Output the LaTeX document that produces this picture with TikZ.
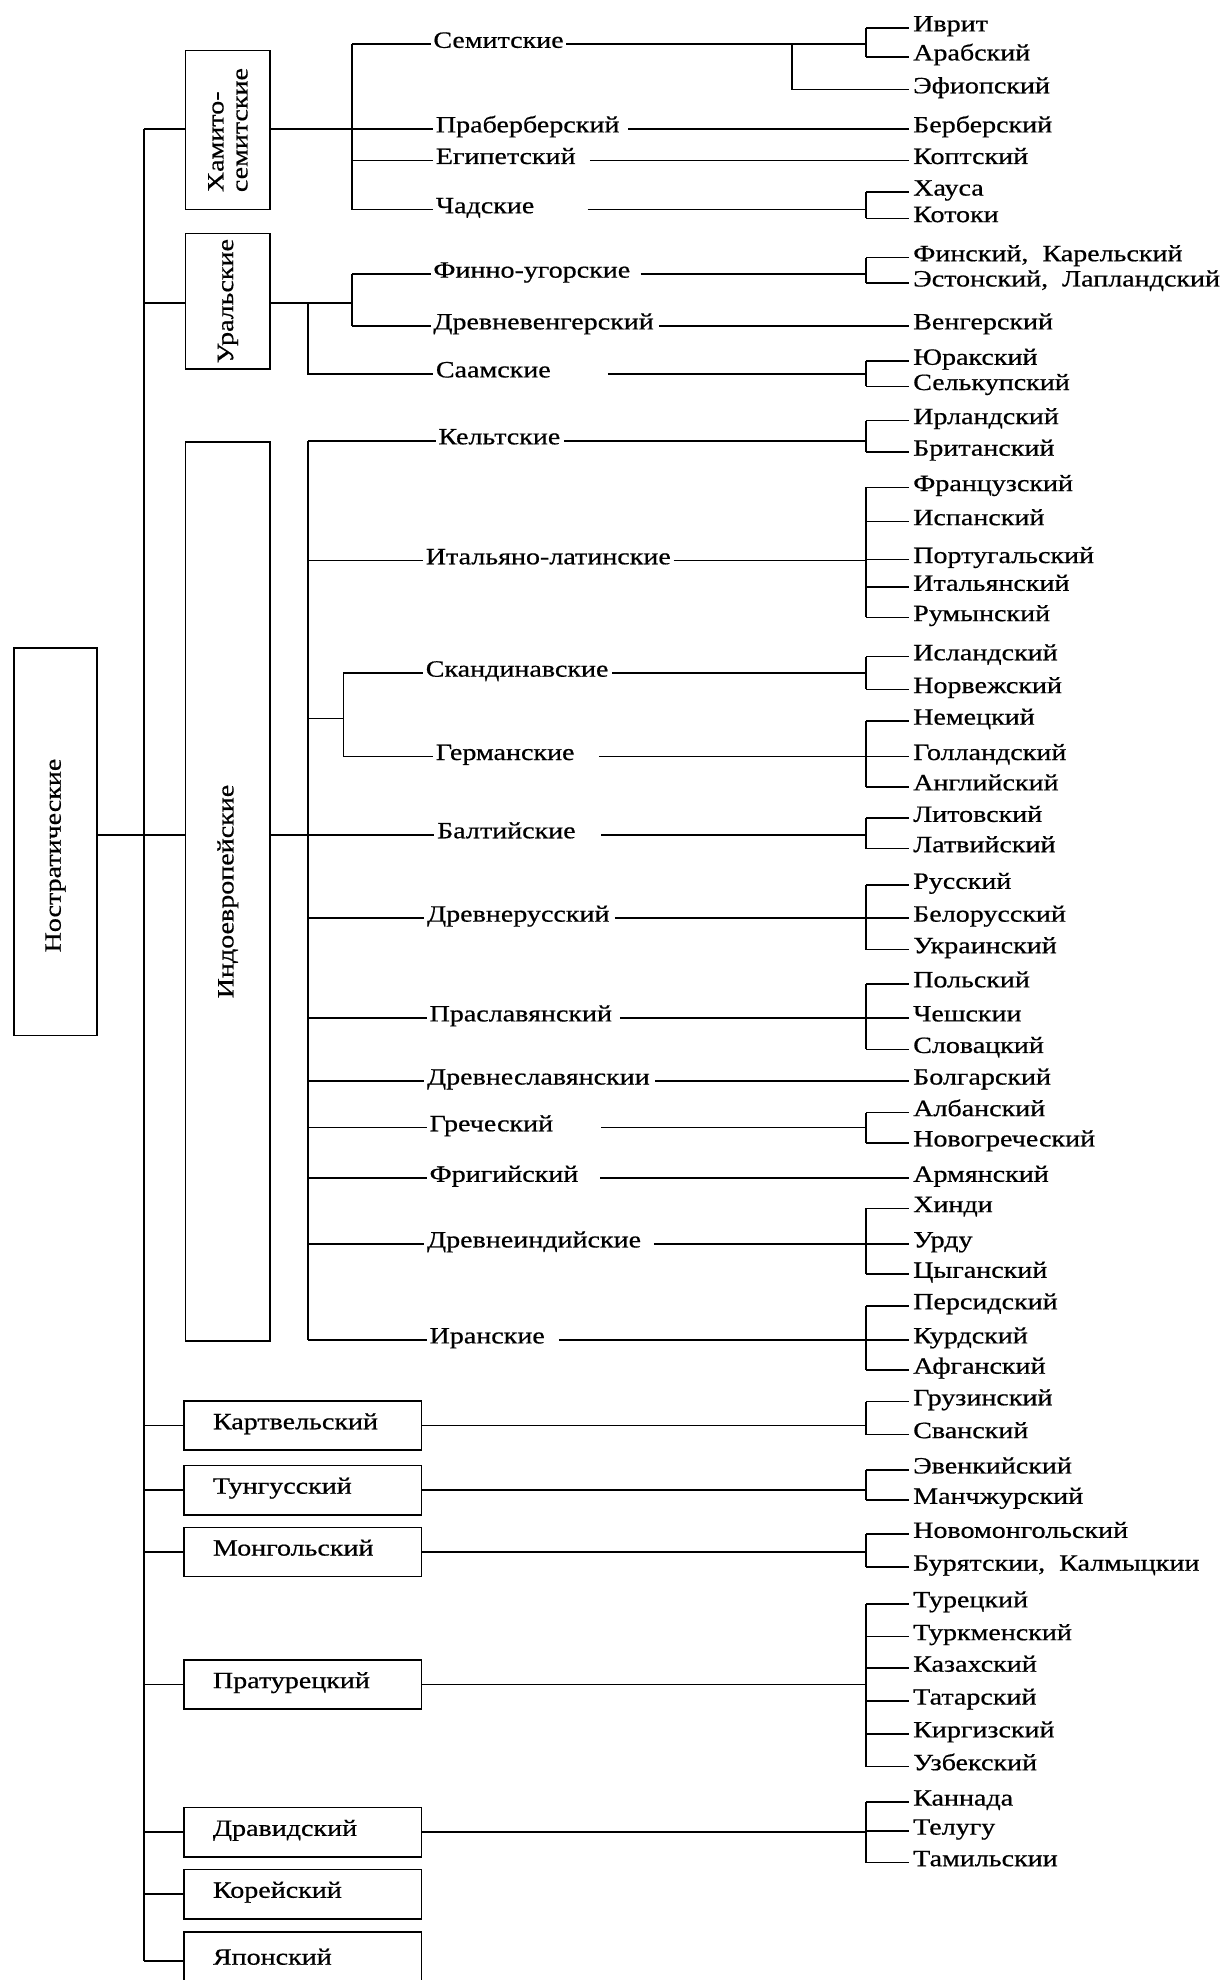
\documentclass[tikz,border=0pt]{standalone}
\usepackage{fontspec}
\setmainfont{Liberation Serif}[FakeStretch=1.2,FakeBold=0.6]
\newcommand{\leafln}[1]{\draw[lnk] (BX |- #1) -- (#1.west);}
\newcommand{\bracketln}[2]{\draw[lnk] (BX |- #1) -- (BX |- #2);}
\begin{document}
\begin{tikzpicture}[x=1pt,y=-1pt,
  every node/.style={font=\fontsize{18.5}{19}\selectfont},
  lnk/.style={line width=1.3pt},
  leaf/.style={anchor=west,inner xsep=3pt,inner ysep=0pt,text height=1.5ex,text depth=.25ex},
  mid/.style={anchor=west,inner xsep=2pt,inner ysep=0pt,text height=1.5ex,text depth=.25ex},
  vbox/.style={draw,line width=1.3pt,rotate=90,inner sep=0pt,align=left},
  hbox/.style={draw,line width=1.3pt,anchor=west,minimum width=188pt,minimum height=39pt,
     inner xsep=23pt,inner ysep=0pt,text width=142pt,align=left,text height=1.5ex,text depth=.25ex}]
\fill[white] (0,0) rectangle (975,1568);
\useasboundingbox (0,0) rectangle (975,1568);

% ---------- boxes ----------
\node[vbox,minimum width=307pt,minimum height=66pt] (nost) at (44,666.5) {Ностратические\hspace{22pt}};
\node[vbox,minimum width=126pt,minimum height=67pt] (hs) at (180.5,103) {Хамито-\\семитские};
\node[vbox,minimum width=107pt,minimum height=67pt] (ur) at (180.5,238.5) {Уральские};
\node[vbox,minimum width=712pt,minimum height=67pt] (ie) at (180.5,706) {Индоевропейские};
\node[hbox] (kart) at (145,1129) {Картвельский};
\node[hbox] (tung) at (145,1180) {Тунгусский};
\node[hbox] (mong) at (145,1229) {Монгольский};
\node[hbox] (prat) at (145,1334) {Пратурецкий};
\node[hbox] (drav) at (145,1451) {Дравидский};
\node[hbox] (kor) at (145,1500) {Корейский};
\node[hbox,minimum height=46pt] (jap) at (145,1553) {Японский};

% ---------- middle labels ----------
\node[mid] (sem) at (341,35) {Семитские};
\node[mid] (prab) at (343,102) {Праберберский};
\node[mid] (egip) at (343,127) {Египетский};
\node[mid] (chad) at (343,166) {Чадские};
\node[mid] (finno) at (341,217) {Финно-угорские};
\node[mid] (drveng) at (341,258) {Древневенгерский};
\node[mid] (saam) at (343,296) {Саамские};
\node[mid] (kelt) at (345,349) {Кельтские};
\node[mid] (italat) at (335,444) {Итальяно-латинские};
\node[mid] (skand) at (335,533) {Скандинавские};
\node[mid] (germ) at (343,599) {Германские};
\node[mid] (balt) at (344,661) {Балтийские};
\node[mid] (drrus) at (336,727) {Древнерусский};
\node[mid] (praslav) at (338,806) {Праславянский};
\node[mid] (drslav) at (336,856) {Древнеславянскии};
\node[mid] (grech) at (338,893) {Греческий};
\node[mid] (frig) at (338,933) {Фригийский};
\node[mid] (drind) at (336,985) {Древнеиндийские};
\node[mid] (iran) at (338,1061) {Иранские};

% ---------- leaves ----------
\foreach \n/\yy/\t in {
 ivrit/22/Иврит, arab/45/Арабский, efiop/71/Эфиопский, berb/102/Берберский,
 kopt/127/Коптский, haus/152/Хауса, kotok/173/Котоки,
 fin/204/{Финский,\ \ Карельский}, eston/224/{Эстонский,\ \ Лапландский},
 veng/258/Венгерский, yurak/286/Юракский, selk/306/Селькупский,
 irl/333/Ирландский, brit/358/Британский,
 fr/386/Французский, isp/413/Испанский, port/443/Португальский, ital/465/Итальянский, rum/489/Румынский,
 isl/520/Исландский, norv/546/Норвежский,
 nem/571/Немецкий, goll/599/Голландский, angl/623/Английский,
 lit/648/Литовский, latv/672/Латвийский,
 rus/701/Русский, bel/727/Белорусский, ukr/752/Украинский,
 pol/779/Польский, chesh/806/Чешскии, slov/831/Словацкий,
 bolg/856/Болгарский, alb/881/Албанский, novogr/905/Новогреческий,
 arm/933/Армянский, hindi/957/Хинди, urdu/985/Урду, tsyg/1009/Цыганский,
 pers/1034/Персидский, kurd/1061/Курдский, afg/1085/Афганский,
 gruz/1110/Грузинский, svan/1136/Сванский,
 evenk/1164/Эвенкийский, manch/1188/Манчжурский,
 novomong/1215/Новомонгольский, buryat/1241/{Бурятскии,\ \ Калмыцкии},
 tur/1270/Турецкий, turkm/1296/Туркменский, kaz/1321/Казахский, tat/1347/Татарский,
 kirg/1373/Киргизский, uzb/1399/Узбекский,
 kann/1427/Каннада, telugu/1450/Телугу, tamil/1475/Тамильскии}
 {\node[leaf] (\n) at (720,\yy) {\t};}

% ---------- coordinates ----------
\coordinate (BX) at (686,0);
\coordinate (T0) at (114,102);
\coordinate (T1) at (114,1553);
\coordinate (U) at (114,240);
\coordinate (H0) at (279,35);
\coordinate (H1) at (279,166);
\coordinate (S1) at (627,35);
\coordinate (S2) at (627,71);
\coordinate (UV0) at (279,217);
\coordinate (UV1) at (279,258);
\coordinate (US0) at (244,240);
\coordinate (US1) at (244,296);
\coordinate (IE0) at (244,349);
\coordinate (IE1) at (244,1061);
\coordinate (G) at (244,569);
\coordinate (G0) at (272,533);
\coordinate (G1) at (272,599);

% ---------- trunk ----------
\draw[lnk] (T0) -- (T1);
\draw[lnk] (T0) -- (hs.north |- T0);
\draw[lnk] (U) -- (ur.north |- U);
\draw[lnk] (nost.south |- balt) -- (ie.north |- balt);
\foreach \b in {kart,tung,mong,prat,drav,kor,jap}
  {\draw[lnk] (T0 |- \b) -- (\b.west);}

% ---------- Hamito-Semitic ----------
\draw[lnk] (hs.south |- prab) -- (prab.west);
\draw[lnk] (H0) -- (H1);
\draw[lnk] (H0) -- (sem.west);
\draw[lnk] (H1 |- egip) -- (egip.west);
\draw[lnk] (H1) -- (chad.west);
\draw[lnk] (sem.east) -- (BX |- sem);
\bracketln{ivrit}{arab}
\leafln{ivrit}\leafln{arab}
\draw[lnk] (S1) -- (S2) -- (efiop.west);
\draw[lnk,shorten <=5pt] (prab.east) -- (berb.west);
\draw[lnk,shorten <=9pt] (egip.east) -- (kopt.west);
\draw[lnk,shorten <=40pt] (chad.east) -- (BX |- chad);
\bracketln{haus}{kotok}\leafln{haus}\leafln{kotok}

% ---------- Uralic ----------
\draw[lnk] (ur.south |- U) -- (UV0 |- U);
\draw[lnk] (UV0) -- (UV1);
\draw[lnk] (UV0) -- (finno.west);
\draw[lnk] (UV1) -- (drveng.west);
\draw[lnk] (US0) -- (US1) -- (saam.west);
\draw[lnk,shorten <=6pt] (finno.east) -- (BX |- finno);
\bracketln{fin}{eston}\leafln{fin}\leafln{eston}
\draw[lnk,shorten <=2pt] (drveng.east) -- (veng.west);
\draw[lnk,shorten <=43pt] (saam.east) -- (BX |- saam);
\bracketln{yurak}{selk}\leafln{yurak}\leafln{selk}

% ---------- Indo-European ----------
\draw[lnk] (IE0) -- (IE1);
\draw[lnk] (ie.south |- balt) -- (balt.west);
\foreach \m in {kelt,italat,drrus,praslav,drslav,grech,frig,drind,iran}
  {\draw[lnk] (IE0 |- \m) -- (\m.west);}
\draw[lnk] (G) -- (G0 |- G);
\draw[lnk] (G0) -- (G1);
\draw[lnk] (G0) -- (skand.west);
\draw[lnk] (G1) -- (germ.west);

\draw[lnk,shorten <=1pt] (kelt.east) -- (BX |- kelt);
\bracketln{irl}{brit}\leafln{irl}\leafln{brit}
\draw[lnk] (italat.east) -- (BX |- italat);
\bracketln{fr}{rum}\foreach \l in {fr,isp,port,ital,rum}{\leafln{\l}}
\draw[lnk,shorten <=1pt] (skand.east) -- (BX |- skand);
\bracketln{isl}{norv}\leafln{isl}\leafln{norv}
\draw[lnk,shorten <=17pt] (germ.east) -- (BX |- germ);
\bracketln{nem}{angl}\foreach \l in {nem,goll,angl}{\leafln{\l}}
\draw[lnk,shorten <=18pt] (balt.east) -- (BX |- balt);
\bracketln{lit}{latv}\leafln{lit}\leafln{latv}
\draw[lnk,shorten <=2pt] (drrus.east) -- (BX |- drrus);
\bracketln{rus}{ukr}\foreach \l in {rus,bel,ukr}{\leafln{\l}}
\draw[lnk,shorten <=4pt] (praslav.east) -- (BX |- praslav);
\bracketln{pol}{slov}\foreach \l in {pol,chesh,slov}{\leafln{\l}}
\draw[lnk,shorten <=2pt] (drslav.east) -- (bolg.west);
\draw[lnk,shorten <=36pt] (grech.east) -- (BX |- grech);
\bracketln{alb}{novogr}\leafln{alb}\leafln{novogr}
\draw[lnk,shorten <=15pt] (frig.east) -- (arm.west);
\draw[lnk,shorten <=8pt] (drind.east) -- (BX |- drind);
\bracketln{hindi}{tsyg}\foreach \l in {hindi,urdu,tsyg}{\leafln{\l}}
\draw[lnk,shorten <=9pt] (iran.east) -- (BX |- iran);
\bracketln{pers}{afg}\foreach \l in {pers,kurd,afg}{\leafln{\l}}

% ---------- other families ----------
\draw[lnk] (kart.east) -- (BX |- kart);
\bracketln{gruz}{svan}\leafln{gruz}\leafln{svan}
\draw[lnk] (tung.east) -- (BX |- tung);
\bracketln{evenk}{manch}\leafln{evenk}\leafln{manch}
\draw[lnk] (mong.east) -- (BX |- mong);
\bracketln{novomong}{buryat}\leafln{novomong}\leafln{buryat}
\draw[lnk] (prat.east) -- (BX |- prat);
\bracketln{tur}{uzb}\foreach \l in {tur,turkm,kaz,tat,kirg,uzb}{\leafln{\l}}
\draw[lnk] (drav.east) -- (BX |- drav);
\bracketln{kann}{tamil}\foreach \l in {kann,telugu,tamil}{\leafln{\l}}
\end{tikzpicture}
\end{document}
